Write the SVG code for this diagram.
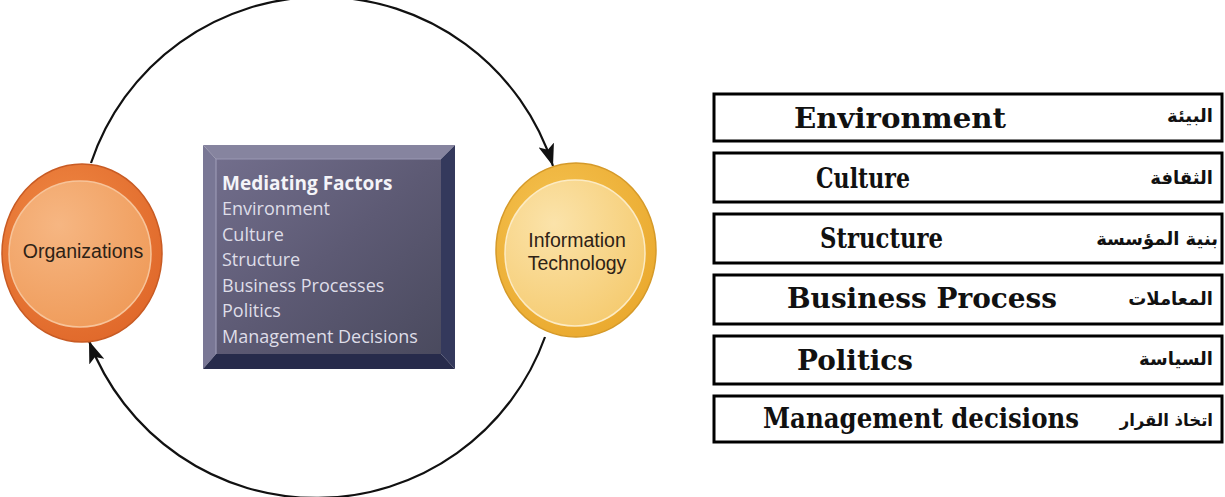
<svg xmlns="http://www.w3.org/2000/svg" width="1225" height="497" viewBox="0 0 1225 497">
<defs>
<style>
.lbl{font-family:"Liberation Sans",Arial,sans-serif;font-size:19.5px;fill:#2e2216;text-anchor:middle}
.mf{font-family:"Open Sans","Noto Sans",sans-serif;font-size:18px;fill:#dedde8}
.mfh{font-family:"Open Sans","Noto Sans",sans-serif;font-size:19px;font-weight:bold;fill:#f4f4f8}
.box{fill:#fff;stroke:#000;stroke-width:3}
.en{font-family:"DejaVu Serif","Liberation Serif",serif;font-weight:bold;font-size:28px;fill:#111}
.ar{font-family:"DejaVu Sans","Noto Sans",sans-serif;font-weight:bold;font-size:18px;fill:#111;text-anchor:end}
.conn{fill:none;stroke:#111;stroke-width:2.2}
</style>
<marker id="ah" viewBox="0 0 22 16" refX="22" refY="8" markerWidth="22" markerHeight="16" markerUnits="userSpaceOnUse" orient="auto">
<path d="M0,0 L22,8 L0,16 L5,8 Z" fill="#111"/>
</marker>
<radialGradient id="orgOuter" cx="0.4" cy="0.35" r="0.7">
<stop offset="0" stop-color="#f08a45"/>
<stop offset="1" stop-color="#e0682a"/>
</radialGradient>
<radialGradient id="orgInner" cx="0.35" cy="0.3" r="0.8">
<stop offset="0" stop-color="#f6b682"/>
<stop offset="1" stop-color="#ef9a58"/>
</radialGradient>
<radialGradient id="itOuter" cx="0.4" cy="0.35" r="0.7">
<stop offset="0" stop-color="#f5c453"/>
<stop offset="1" stop-color="#eaa92e"/>
</radialGradient>
<radialGradient id="itInner" cx="0.35" cy="0.3" r="0.8">
<stop offset="0" stop-color="#fbe3aa"/>
<stop offset="1" stop-color="#f5ca6e"/>
</radialGradient>
<linearGradient id="face" x1="0" y1="0" x2="1" y2="1">
<stop offset="0" stop-color="#726e8c"/>
<stop offset="0.5" stop-color="#5d5a74"/>
<stop offset="1" stop-color="#4a4a5e"/>
</linearGradient>
</defs>

<g id="connectors">
<path class="conn" d="M 91 163 A 243 243 0 0 1 553 166" marker-end="url(#ah)"/>
<path class="conn" d="M 545 337 A 243 243 0 0 1 89 341" marker-end="url(#ah)"/>
</g>

<g id="organizations">
<ellipse cx="82" cy="253" rx="80" ry="89" fill="url(#orgOuter)" stroke="#c85b24" stroke-width="1.5"/>
<ellipse cx="80" cy="254" rx="71" ry="73" fill="url(#orgInner)" stroke="#f7c49a" stroke-width="1.5"/>
<text class="lbl" x="83" y="258">Organizations</text>
</g>

<g id="information-technology">
<ellipse cx="576" cy="250" rx="80" ry="87" fill="url(#itOuter)" stroke="#d59a2a" stroke-width="1.5"/>
<ellipse cx="575" cy="253" rx="70" ry="73" fill="url(#itInner)" stroke="#fcebc4" stroke-width="1.5"/>
<text class="lbl" x="577" y="247">Information</text>
<text class="lbl" x="577" y="270">Technology</text>
</g>

<g id="mediating-factors">
<polygon points="203,145 455,145 441,159 216,159" fill="#86849f"/>
<polygon points="203,145 216,159 216,354 203,369" fill="#797795"/>
<polygon points="455,145 455,369 441,354 441,159" fill="#34395c"/>
<polygon points="203,369 216,354 441,354 455,369" fill="#272b4b"/>
<rect x="216" y="159" width="225" height="195" fill="url(#face)"/>
<path d="M216,354 L216,159 L441,159" fill="none" stroke="#9a98b4" stroke-width="1.2"/>
<text class="mfh" x="222" y="190">Mediating Factors</text>
<text class="mf" x="222" y="215">Environment</text>
<text class="mf" x="222" y="241">Culture</text>
<text class="mf" x="222" y="266">Structure</text>
<text class="mf" x="222" y="292">Business Processes</text>
<text class="mf" x="222" y="317">Politics</text>
<text class="mf" x="222" y="343">Management Decisions</text>
</g>

<g id="environment">
<rect class="box" x="714" y="94" width="508" height="47"/>
<text class="en" x="794" y="128" textLength="212" lengthAdjust="spacingAndGlyphs">Environment</text>
<text class="ar" x="1213" y="122">البيئة</text>
</g>
<g id="culture">
<rect class="box" x="714" y="153" width="508" height="49"/>
<text class="en" x="816" y="188" textLength="94" lengthAdjust="spacingAndGlyphs">Culture</text>
<text class="ar" x="1213" y="184">الثقافة</text>
</g>
<g id="structure">
<rect class="box" x="714" y="214" width="508" height="49"/>
<text class="en" x="820" y="248" textLength="123" lengthAdjust="spacingAndGlyphs">Structure</text>
<text class="ar" x="1218" y="245">بنية المؤسسة</text>
</g>
<g id="business-process">
<rect class="box" x="714" y="275" width="508" height="49"/>
<text class="en" x="787" y="308" textLength="270" lengthAdjust="spacingAndGlyphs">Business Process</text>
<text class="ar" x="1213" y="305">المعاملات</text>
</g>
<g id="politics">
<rect class="box" x="714" y="336" width="508" height="48"/>
<text class="en" x="797" y="370" textLength="116" lengthAdjust="spacingAndGlyphs">Politics</text>
<text class="ar" x="1213" y="365">السياسة</text>
</g>
<g id="management-decisions">
<rect class="box" x="714" y="396" width="508" height="46"/>
<text class="en" x="763" y="428" textLength="316" lengthAdjust="spacingAndGlyphs">Management decisions</text>
<text class="ar" x="1213" y="426" style="font-size:16.5px">اتخاذ القرار</text>
</g>
</svg>
